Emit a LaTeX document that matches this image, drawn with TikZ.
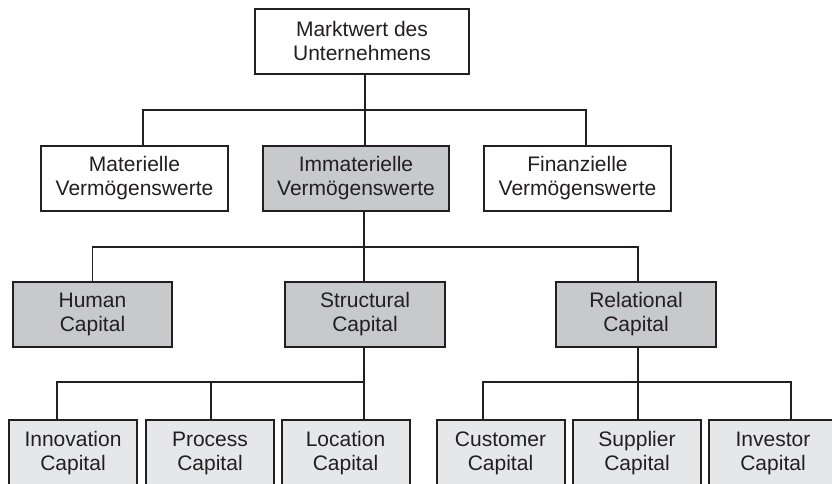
\documentclass[tikz,border=0pt]{standalone}
\usepackage{fontspec}
\setmainfont{Liberation Sans}
\usetikzlibrary{calc}
\definecolor{ink}{HTML}{231F20}
\definecolor{midgray}{HTML}{C8C9CB}
\definecolor{lightgray}{HTML}{E6E7E8}
\tikzset{
  box/.style={draw=ink, line width=2pt, rectangle, align=center, inner sep=0pt,
    font=\fontsize{21}{24}\selectfont, text=ink, minimum height=65pt},
  plainbox/.style={box, fill=white},
  keybox/.style={box, fill=midgray},
  leafbox/.style={box, fill=lightgray, anchor=north, minimum height=67pt, minimum width=128pt},
  link/.style={draw=ink, line width=1.6pt},
}
\begin{document}
\begin{tikzpicture}[x=1pt,y=-1pt]
\useasboundingbox (0,0) rectangle (832,483);
\clip (0,0) rectangle (832,483);

% top level
\node[plainbox, minimum width=214pt] (mw) at (362,41) {Marktwert des\\Unternehmens};

% asset classes
\node[plainbox, minimum width=187pt] (mat) at (134.5,178.5) {Materielle\\Vermögenswerte};
\node[keybox,   minimum width=186pt] (imm) at (356,178.5)   {Immaterielle\\Vermögenswerte};
\node[plainbox, minimum width=187pt] (fin) at (577.5,178.5) {Finanzielle\\Vermögenswerte};

% intellectual capital
\node[keybox, minimum width=159pt] (hum) at (92.5,314.5) {Human\\Capital};
\node[keybox, minimum width=160pt] (str) at (365,314.5)  {Structural\\Capital};
\node[keybox, minimum width=160pt] (rel) at (636,314.5)  {Relational\\Capital};

% sub-categories
\node[leafbox] (inno) at (73,419)    {Innovation\\Capital};
\node[leafbox] (proc) at (210,419)   {Process\\Capital};
\node[leafbox] (loc)  at (345.5,419) {Location\\Capital};
\node[leafbox] (cust) at (500.5,419) {Customer\\Capital};
\node[leafbox] (supp) at (637,419)   {Supplier\\Capital};
\node[leafbox] (inv)  at (773,419)   {Investor\\Capital};

% junction points of the tree
\coordinate (j1) at (365,110);
\coordinate (j2) at (364,247);
\coordinate (j3) at (364,382);
\coordinate (j4) at (638,382);

% level 1
\draw[link] ([xshift=3pt]mw.south) -- (j1);
\draw[link] ([xshift=8.5pt]mat.north) |- (j1) -| ([xshift=8.5pt]fin.north);
\draw[link] (j1) -- ([xshift=9pt]imm.north);

% level 2
\draw[link] ([xshift=8pt]imm.south) -- (j2);
\draw[link] (hum.north) |- (j2) -| ([xshift=2pt]rel.north);
\draw[link] ([xshift=-1pt]str.north) -- (j2);

% level 3, structural
\draw[link] ([xshift=-1pt]str.south) -- (j3);
\draw[link] ([xshift=-16pt]inno.north) |- (j3) -| ([xshift=18.5pt]loc.north);
\draw[link] ([xshift=1pt]proc.north) -- ([xshift=1pt]proc.north |- j3);

% level 3, relational
\draw[link] ([xshift=2pt]rel.south) -- (j4);
\draw[link] ([xshift=-17.5pt]cust.north) |- (j4) -| ([xshift=18pt]inv.north);
\draw[link] ([xshift=1pt]supp.north) -- ([xshift=1pt]supp.north |- j4);
\end{tikzpicture}
\end{document}
